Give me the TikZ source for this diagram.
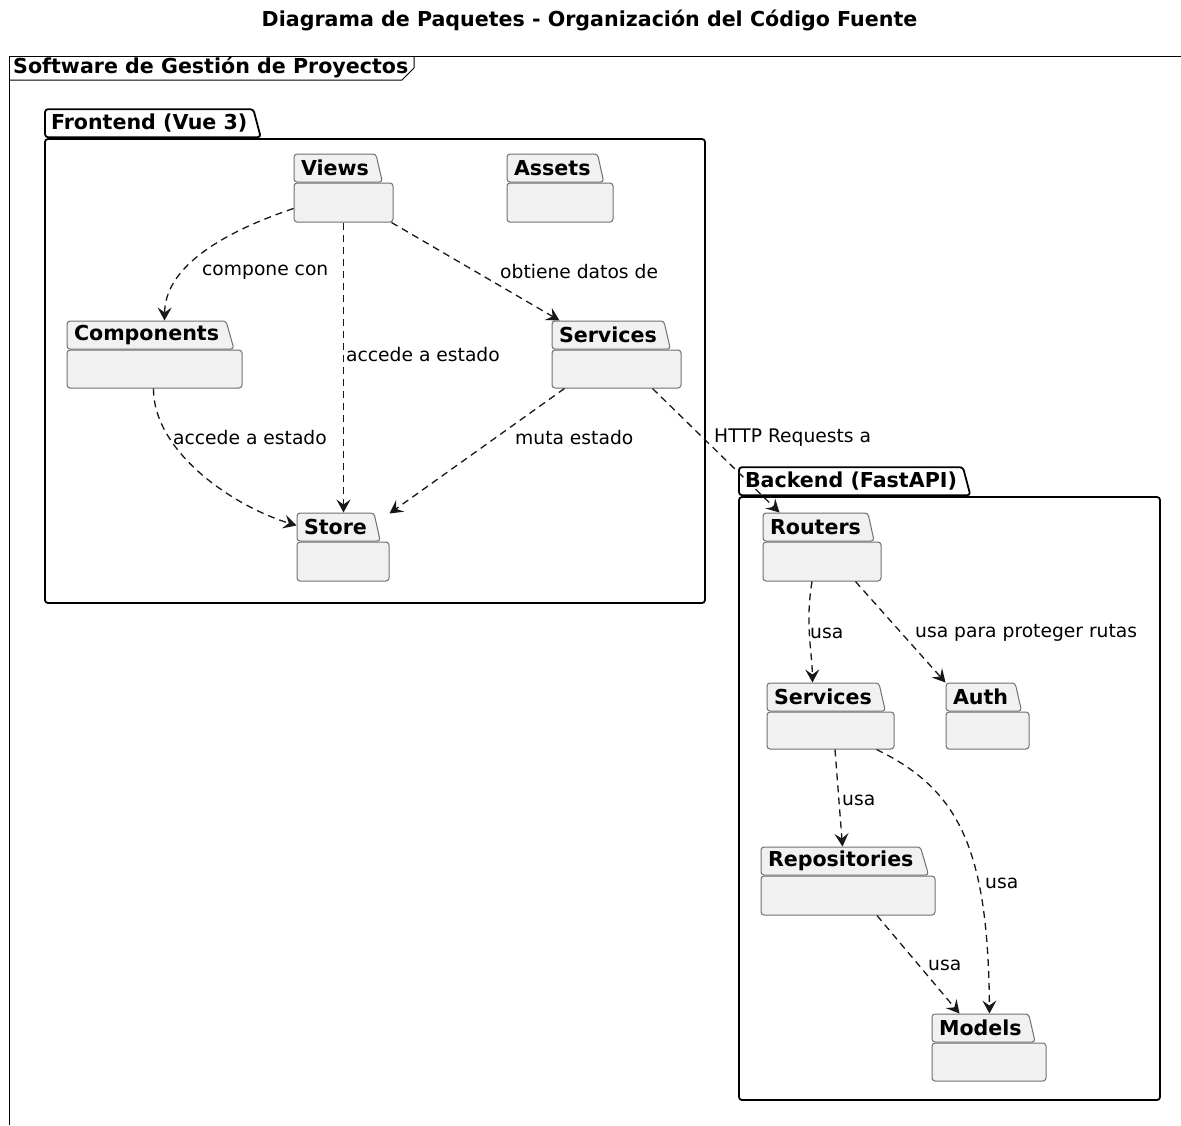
\documentclass[tikz,border=0pt]{standalone}
\usepackage{fontspec}
\setmainfont{DejaVu Sans}
\usepackage{xcolor}
\usetikzlibrary{shapes.geometric, arrows.meta}

\definecolor{pkgfill}{HTML}{F1F1F1}
\definecolor{pkgline}{HTML}{707070}
\definecolor{edgeline}{HTML}{181818}

\newcommand{\boldfont}{\fontsize{20.6}{24}\selectfont\bfseries}

\begin{document}
\begin{tikzpicture}[x=1pt, y=-1pt, font=\fontsize{18.7}{22}\selectfont]
\tikzstyle{pkg} = [rectangle, rounded corners=3pt, draw=pkgline, line width=1pt, fill=pkgfill, minimum height=38pt, inner sep=0pt]
\tikzstyle{pkgtab} = [trapezium, trapezium left angle=90, trapezium right angle=68, trapezium stretches body=true, rounded corners=3pt, draw=pkgline, line width=1pt, fill=pkgfill, minimum height=28pt, inner xsep=7pt, inner ysep=0pt, anchor=bottom left corner, font=\boldfont]
\tikzstyle{frame} = [rectangle, rounded corners=3pt, draw=black, line width=1.8pt, fill=white, inner sep=0pt]
\tikzstyle{frametab} = [pkgtab, inner xsep=6pt, draw=black, line width=1.8pt, fill=white]
\tikzstyle{dep} = [dash pattern=on 7pt off 5pt, line width=1.3pt, draw=edgeline, -{Stealth[length=13pt, width=14pt, inset=5pt]}]
\tikzstyle{lbl} = [anchor=west, inner sep=0pt, text=black]

\useasboundingbox (0,0) rectangle (1181,1125);

% Title and outer frame
\node (title) at (589.5,20) {\boldfont Diagrama de Paquetes - Organización del Código Fuente};
\draw [line width=1pt] (9,1125) -- (9,56) -- (1181,56);
\draw [line width=1pt] (9,80) -- (402,80) -- (414,68) -- (414,56);
\node (system) [anchor=west, inner sep=0pt] at (13,67) {\boldfont Software de Gestión de Proyectos};

% Frontend
\node (frontend) [frame, minimum width=660pt, minimum height=464pt] at (375,371) {};
\node (frontendtab) [frametab] at (frontend.north west) {Frontend (Vue 3)};
\node (views) [pkg, minimum width=99pt, minimum height=39pt] at (343.5,202.5) {};
\node (viewstab) [pkgtab] at (views.north west) {Views};
\node (assets) [pkg, minimum width=106pt, minimum height=39pt] at (560,202.5) {};
\node (assetstab) [pkgtab] at (assets.north west) {Assets};
\node (components) [pkg, minimum width=175pt] at (154.5,369) {};
\node (componentstab) [pkgtab] at (components.north west) {Components};
\node (fservices) [pkg, minimum width=129pt] at (616.5,369) {};
\node (fservicestab) [pkgtab] at (fservices.north west) {Services};
\node (store) [pkg, minimum width=92pt, minimum height=39pt] at (343,561.5) {};
\node (storetab) [pkgtab] at (store.north west) {Store};

% Backend
\node (backend) [frame, minimum width=421pt, minimum height=603pt] at (949.5,798.5) {};
\node (backendtab) [frametab] at (backend.north west) {Backend (FastAPI)};
\node (routers) [pkg, minimum width=118pt, minimum height=39pt] at (822,561.5) {};
\node (routerstab) [pkgtab] at (routers.north west) {Routers};
\node (bservices) [pkg, minimum width=127pt, minimum height=37pt] at (830.5,730.5) {};
\node (bservicestab) [pkgtab] at (bservices.north west) {Services};
\node (auth) [pkg, minimum width=83pt, minimum height=37pt] at (987.5,730.5) {};
\node (authtab) [pkgtab] at (auth.north west) {Auth};
\node (repositories) [pkg, minimum width=174pt, minimum height=39pt] at (848,895.5) {};
\node (repositoriestab) [pkgtab] at (repositories.north west) {Repositories};
\node (models) [pkg, minimum width=114pt] at (989,1062) {};
\node (modelstab) [pkgtab] at (models.north west) {Models};

% Connections
\draw [dep] ([yshift=-6pt]views.west) .. controls (215,235) and (165,270) .. ([xshift=98pt]componentstab.top left corner);
\draw [dep] (views.south) -- (views.south |- storetab.north);
\draw [dep] ([xshift=-2pt]views.south east) -- ([xshift=8pt]fservicestab.top left corner);
\draw [dep] ([xshift=-1pt]components.south) .. controls (153,450) and (230,505) .. ([yshift=-13pt]storetab.top left corner);
\draw [dep] ([xshift=13pt]fservices.south west) -- ([yshift=28pt]store.north east);
\draw [dep] ([xshift=-29pt]fservices.south east) -- ([xshift=17pt]routerstab.top left corner);
\draw [dep] ([xshift=-10pt]routers.south) .. controls (805,625) and (812,650) .. ([xshift=46pt]bservicestab.top left corner);
\draw [dep] ([xshift=-26pt]routers.south east) -- (authtab.top left corner);
\draw [dep] ([xshift=4.5pt]bservices.south) -- ([xshift=82pt]repositoriestab.top left corner);
\draw [dep] ([xshift=-18pt]bservices.south east) .. controls (960,790) and (988,850) .. ([xshift=58pt]modelstab.top left corner);
\draw [dep] ([xshift=29pt]repositories.south) -- ([xshift=28pt]modelstab.top left corner);

% Labels
\node (lcompone) [lbl] at (202,272) {compone con};
\node (lviewsstore) [lbl] at (346,355) {accede a estado};
\node (lobtiene) [lbl] at (500,272) {obtiene datos de};
\node (lcompstore) [lbl] at (173,438) {accede a estado};
\node (lmuta) [lbl] at (515,438) {muta estado};
\node (lhttp) [lbl] at (714,438) {HTTP Requests a};
\node (lusaservices) [lbl] at (810,633) {usa};
\node (lusaauth) [lbl] at (915,633) {usa para proteger rutas};
\node (lusarepos) [lbl] at (842,800) {usa};
\node (lusamodels) [lbl] at (985,883) {usa};
\node (lusareposmodels) [lbl] at (928,965) {usa};

\end{tikzpicture}
\end{document}
